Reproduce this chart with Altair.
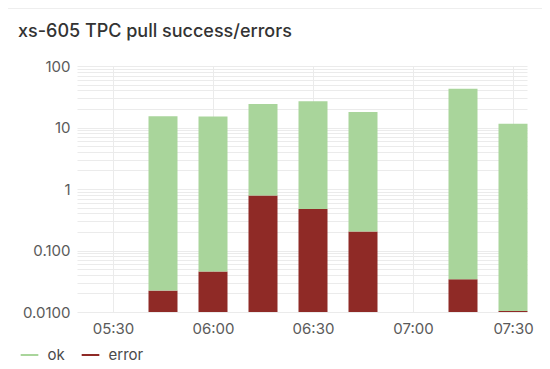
import altair as alt
import pandas as pd

# ---- data ----
times = ["05:45", "06:00", "06:15", "06:30", "06:45", "07:15", "07:30"]
ok_values = [15.2, 15.1, 23.4, 26.2, 17.7, 42.5, 11.5]
error_values = [0.0223, 0.0455, 0.787, 0.472, 0.204, 0.0342, 0.0104]

y_min, y_max = 0.01, 100
x_tick_labels = ["05:30", "06:00", "06:30", "07:00", "07:30"]
series_names = ["ok", "error"]
series_colors = ["#A9D59B", "#8F2A26"]
title_text = "xs-605 TPC pull success/errors"

DAY = "2024-01-01T"

rows = []
for t, ok, err in zip(times, ok_values, error_values):
    rows.append({"time": DAY + t + ":00", "series": "error", "value": err,
                 "lo": y_min, "hi": err})
    rows.append({"time": DAY + t + ":00", "series": "ok", "value": ok,
                 "lo": err, "hi": err + ok})
df = pd.DataFrame(rows)

def hm(s):
    h, m = s.split(":")
    return int(h), int(m)

x_values = [alt.DateTime(year=2024, month=1, date=1, hours=hm(s)[0], minutes=hm(s)[1])
            for s in x_tick_labels]
x_domain = [alt.DateTime(year=2024, month=1, date=1, hours=5, minutes=19, seconds=12),
            alt.DateTime(year=2024, month=1, date=1, hours=7, minutes=34, seconds=12)]

# decades + minor grid values
y_values = []
d = y_min
while d < y_max * 1.0001:
    for k in range(1, 10):
        v = round(d * k, 10)
        if v <= y_max * 1.0001:
            y_values.append(v)
    d = round(d * 10, 10)

label_expr = ("abs(log(datum.value)/LN10 - round(log(datum.value)/LN10)) > 0.001 ? '' : "
              "(datum.value >= 1 ? format(datum.value, 'd') : format(datum.value, '.3r'))")

legend_path = "M -0.8 -0.1 L 0.8 -0.1 A 0.1 0.1 0 0 1 0.8 0.1 L -0.8 0.1 A 0.1 0.1 0 0 1 -0.8 -0.1 Z"

bars = alt.Chart(df).mark_bar(width=29).encode(
    x=alt.X("time:T",
            scale=alt.Scale(domain=x_domain, nice=False, padding=0),
            axis=alt.Axis(values=x_values, format="%H:%M", title=None,
                          labelFlush=False, labelOverlap=False, ticks=False,
                          domain=False, grid=True, gridColor="#EBEBEB",
                          labelFont="Inter", labelFontSize=15, labelColor="#5A5A5A",
                          labelPadding=9)),
    y=alt.Y("hi:Q",
            scale=alt.Scale(type="log", domain=[y_min, y_max], nice=False),
            axis=alt.Axis(values=y_values, labelExpr=label_expr, title=None,
                          labelFlush=False, labelOverlap=False, ticks=False,
                          domain=False, grid=True, gridColor="#EBEBEB",
                          labelFont="Inter", labelFontSize=15, labelColor="#5A5A5A",
                          labelPadding=7)),
    y2="lo:Q",
    color=alt.Color("series:N",
                    scale=alt.Scale(domain=series_names, range=series_colors),
                    legend=alt.Legend(title=None, orient="none", direction="horizontal",
                                      legendX=-57.5, legendY=279,
                                      symbolType=legend_path, symbolSize=400,
                                      symbolStrokeWidth=0, symbolOpacity=1,
                                      labelFont="Inter", labelFontSize=15,
                                      labelColor="#4A4A4A", labelOffset=8,
                                      columnPadding=15, padding=0)),
    order=alt.Order("series:N", sort="ascending"),
)

title = alt.Chart(pd.DataFrame({"t": [title_text]})).mark_text(
    align="left", baseline="alphabetic", font="Inter", fontSize=18,
    fontWeight=500, color="#333333"
).encode(text="t:N", x=alt.value(-59), y=alt.value(-29))

border = alt.Chart(pd.DataFrame({"t": [title_text]})).mark_rule(
    color="#EEEEEE", strokeWidth=1
).encode(x=alt.value(-69), x2=alt.value(465), y=alt.value(-57.5))

chart = alt.layer(bars, title, border).properties(
    width=450,
    height=246,
    autosize=alt.AutoSizeParams(type="none"),
    padding={"left": 69, "top": 58, "right": 15, "bottom": 53},
).configure_view(stroke=None)

chart.save("out.html", embed_options={"renderer": "svg", "actions": False})
